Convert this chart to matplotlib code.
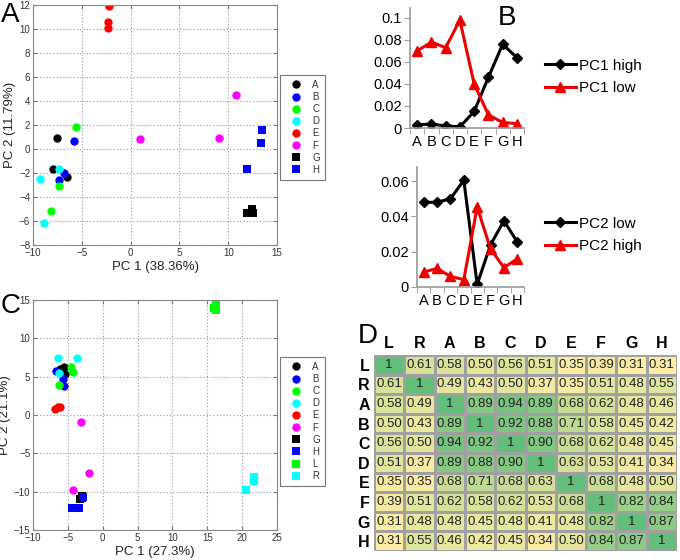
import numpy as np
import matplotlib
matplotlib.use("Agg")
import matplotlib.pyplot as plt
from matplotlib.colors import LinearSegmentedColormap

plt.rcParams["font.family"] = ["Liberation Sans", "DejaVu Sans"]

# ---- panel A: PCA of samples A-H ----
a_groups = ["A", "B", "C", "D", "E", "F", "G", "H"]
a_pc1 = [[-7.5, -7.9, -6.5], [-5.8, -6.8, -7.3], [-5.6, -7.3, -8.2], [-9.3, -7.3, -8.9],
         [-2.2, -2.3, -2.3], [10.8, 9.1, 1.0], [11.9, 12.4, 12.5], [13.5, 13.4, 11.9]]
a_pc2 = [[0.9, -1.7, -2.3], [0.7, -2.0, -2.6], [1.8, -3.1, -5.2], [-2.5, -1.7, -6.2],
         [11.9, 10.6, 10.1], [4.5, 0.9, 0.8], [-5.3, -5.0, -5.3], [1.6, 0.5, -1.7]]

# ---- panel C: PCA including L and R ----
c_groups = ["A", "B", "C", "D", "E", "F", "G", "H", "L", "R"]
c_pc1 = [[-5.5, -6.1, -5.4], [-6.7, -5.7, -5.6], [-4.5, -4.3, -6.2], [-6.4, -3.7, -6.2],
         [-6.8, -6.4, -6.1], [-3.1, -2.0, -4.2], [-3.3, -2.9, -3.0], [-4.4, -3.4, -2.8],
         [15.9, 16.3, 16.3], [20.5, 21.7, 21.7]]
c_pc2 = [[6.3, 6.0, 5.3], [5.8, 4.7, 3.8], [6.2, 5.6, 3.9], [7.5, 7.4, 5.5],
         [0.8, 1.0, 1.1], [-0.9, -7.5, -9.8], [-11.0, -10.5, -10.8], [-12.1, -12.1, -10.7],
         [13.9, 14.7, 13.7], [-9.8, -8.1, -8.6]]

group_colors = {"A": "#000000", "B": "#0000ff", "C": "#00ff00", "D": "#00ffff",
                "E": "#ff0000", "F": "#ff00ff", "G": "#000000", "H": "#0000ff",
                "L": "#00ff00", "R": "#00ffff"}
square_groups = ["G", "H", "L", "R"]

# ---- panel B: loading profiles ----
samples = ["A", "B", "C", "D", "E", "F", "G", "H"]
pc1_high = [0.003, 0.0035, 0.002, 0.001, 0.015, 0.046, 0.076, 0.064]
pc1_low = [0.070, 0.078, 0.073, 0.098, 0.040, 0.012, 0.005, 0.004]
pc2_low = [0.048, 0.048, 0.050, 0.0605, 0.0015, 0.024, 0.0375, 0.0255]
pc2_high = [0.0085, 0.0105, 0.006, 0.0042, 0.0453, 0.0215, 0.011, 0.016]

# ---- panel D: correlation table ----
corr_labels = ["L", "R", "A", "B", "C", "D", "E", "F", "G", "H"]
corr = np.array([
    [1, 0.61, 0.58, 0.50, 0.56, 0.51, 0.35, 0.39, 0.31, 0.31],
    [0.61, 1, 0.49, 0.43, 0.50, 0.37, 0.35, 0.51, 0.48, 0.55],
    [0.58, 0.49, 1, 0.89, 0.94, 0.89, 0.68, 0.62, 0.48, 0.46],
    [0.50, 0.43, 0.89, 1, 0.92, 0.88, 0.71, 0.58, 0.45, 0.42],
    [0.56, 0.50, 0.94, 0.92, 1, 0.90, 0.68, 0.62, 0.48, 0.45],
    [0.51, 0.37, 0.89, 0.88, 0.90, 1, 0.63, 0.53, 0.41, 0.34],
    [0.35, 0.35, 0.68, 0.71, 0.68, 0.63, 1, 0.68, 0.48, 0.50],
    [0.39, 0.51, 0.62, 0.58, 0.62, 0.53, 0.68, 1, 0.82, 0.84],
    [0.31, 0.48, 0.48, 0.45, 0.48, 0.41, 0.48, 0.82, 1, 0.87],
    [0.31, 0.55, 0.46, 0.42, 0.45, 0.34, 0.50, 0.84, 0.87, 1],
])

W, H = 680, 560


def rect(left, top, right, bottom):
    return [left / W, 1 - bottom / H, (right - left) / W, (bottom - top) / H]


def pca_panel(fig, box, groups, xs, ys, xlim, ylim, xticks, yticks, xlabel, ylabel, leg_xy):
    ax = fig.add_axes(rect(*box))
    for g, gx, gy in zip(groups, xs, ys):
        m = "s" if g in square_groups else "o"
        ax.plot(gx, gy, linestyle="none", marker=m, markersize=6 if m == "o" else 5.5,
                color=group_colors[g], markeredgewidth=0, label=g)
    ax.set_xlim(*xlim)
    ax.set_ylim(*ylim)
    ax.set_xticks(xticks)
    ax.set_yticks(yticks)
    ax.grid(True, linestyle=(0, (1, 2)), color="#999999", linewidth=0.8)
    ax.tick_params(direction="in", top=True, right=True, labelsize=7, length=3,
                   color="#777777", labelcolor="#333333", pad=2)
    for sp in ax.spines.values():
        sp.set_color("#888888")
    ax.set_xlabel(xlabel, fontsize=9.5, color="#222222", labelpad=2)
    ax.set_ylabel(ylabel, fontsize=9.5, color="#222222", labelpad=2)
    leg = ax.legend(loc="upper left", bbox_to_anchor=(leg_xy[0] / W, 1 - leg_xy[1] / H),
                    bbox_transform=fig.transFigure, fontsize=7, frameon=True, fancybox=False,
                    edgecolor="#555555", handlelength=2.2, handletextpad=0.6,
                    labelspacing=0.22, borderpad=0.5, borderaxespad=0)
    leg.get_frame().set_linewidth(0.8)
    for t in leg.get_texts():
        t.set_color("#333333")
    return ax


def profile_panel(fig, box, ymax, yticks, ylabels, black, red, names, leg_xy):
    ax = fig.add_axes(rect(*box))
    x = np.arange(len(samples))
    ax.plot(x, black, color="black", marker="D", markersize=5.5, linewidth=2.2, label=names[0])
    ax.plot(x, red, color="#ee0000", marker="^", markersize=7.5, linewidth=2.2, label=names[1])
    ax.set_xlim(-0.5, len(samples) - 0.5)
    ax.set_ylim(0, ymax)
    ax.set_xticks(x)
    ax.set_xticklabels(samples)
    ax.set_xticks(np.arange(len(samples) + 1) - 0.5, minor=True)
    ax.set_yticks(yticks)
    ax.set_yticklabels(ylabels)
    ax.tick_params(axis="x", which="major", length=0, labelsize=10.5, pad=5)
    ax.tick_params(axis="x", which="minor", length=4, color="#999999", direction="out")
    ax.tick_params(axis="y", length=4, color="#999999", labelsize=10.5, pad=2)
    for s in ["top", "right"]:
        ax.spines[s].set_visible(False)
    for s in ["left", "bottom"]:
        ax.spines[s].set_color("#999999")
        ax.spines[s].set_linewidth(1.2)
    ax.legend(loc="center left", bbox_to_anchor=(leg_xy[0] / W, 1 - leg_xy[1] / H),
              bbox_transform=fig.transFigure, frameon=False, fontsize=11,
              handlelength=2.0, handletextpad=0.2, labelspacing=0.55, borderaxespad=0,
              borderpad=0)
    return ax


fig = plt.figure(figsize=(6.8, 5.6), dpi=100)

pca_panel(fig, (33, 5, 277, 245), a_groups, a_pc1, a_pc2, (-10, 15), (-8, 12),
          np.arange(-10, 16, 5), np.arange(-8, 13, 2), "PC 1 (38.36%)", "PC 2 (11.79%)",
          (280, 75))
pca_panel(fig, (33, 300, 277, 530), c_groups, c_pc1, c_pc2, (-10, 25), (-15, 15),
          np.arange(-10, 26, 5), np.arange(-15, 16, 5), "PC 1 (27.3%)", "PC 2 (21.1%)",
          (280, 357))

profile_panel(fig, (410, 8, 524, 128), 0.109, [0, 0.02, 0.04, 0.06, 0.08, 0.1],
              ["0", "0.02", "0.04", "0.06", "0.08", "0.1"], pc1_high, pc1_low,
              ["PC1 high", "PC1 low"], (545, 77))
profile_panel(fig, (417, 167, 524, 287), 0.068, [0, 0.02, 0.04, 0.06],
              ["0", "0.02", "0.04", "0.06"], pc2_low, pc2_high,
              ["PC2 low", "PC2 high"], (545, 235))

# correlation heatmap
cmap = LinearSegmentedColormap.from_list("yg", ["#fdeca6", "#cfe096", "#63be7b"])
axd = fig.add_axes(rect(374, 355, 677, 551))
n = len(corr_labels)
axd.pcolormesh(np.arange(n + 1), np.arange(n + 1), corr, cmap=cmap, vmin=0.31, vmax=1,
               edgecolors="#a0a0a0", linewidth=0.8)
axd.set_xlim(0, n)
axd.set_ylim(n, 0)
for i in range(n):
    for j in range(n):
        v = corr[i, j]
        txt = "1" if v == 1 else f"{v:.2f}"
        axd.text(j + 0.5, i + 0.5, txt, ha="center", va="center", fontsize=9.5, color="#222222")
axd.xaxis.tick_top()
axd.set_xticks(np.arange(n) + 0.5)
axd.set_xticklabels(corr_labels, fontweight="bold", fontsize=11.5)
axd.set_yticks(np.arange(n) + 0.5)
axd.set_yticklabels(corr_labels, fontweight="bold", fontsize=11.5)
axd.tick_params(length=0, pad=3)
for sp in axd.spines.values():
    sp.set_visible(False)

# panel letters
for letter, (lx, ly) in {"A": (1, 22), "B": (498, 25), "C": (1, 313), "D": (358, 343)}.items():
    fig.text(lx / W, 1 - ly / H, letter, fontsize=20, va="baseline", ha="left")

fig.savefig("out.png", dpi=100)
